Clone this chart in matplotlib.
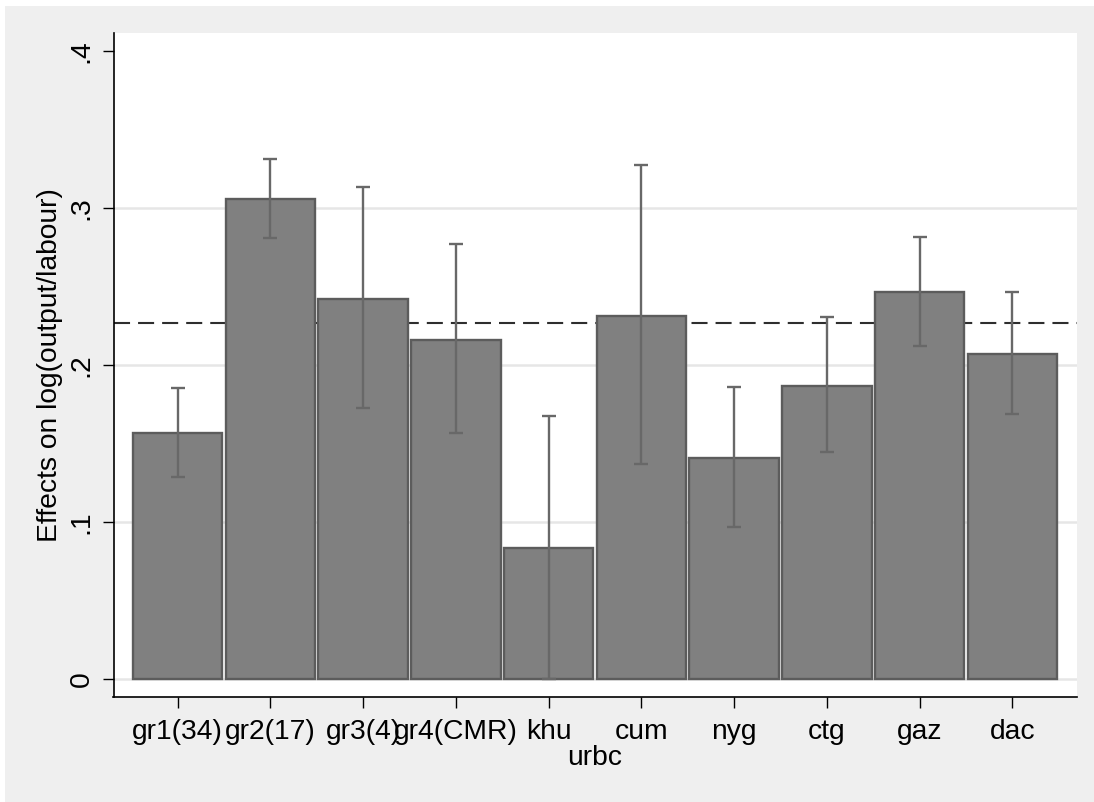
import matplotlib
matplotlib.use("Agg")
import matplotlib.pyplot as plt
from matplotlib.patches import Rectangle
import numpy as np

categories = ["gr1(34)", "gr2(17)", "gr3(4)", "gr4(CMR)", "khu", "cum", "nyg", "ctg", "gaz", "dac"]
effects = [0.1567, 0.3057, 0.2420, 0.2161, 0.0838, 0.2314, 0.1410, 0.1868, 0.2465, 0.2072]
ci_high = [0.1855, 0.3316, 0.3134, 0.2771, 0.1679, 0.3274, 0.1864, 0.2308, 0.2815, 0.2469]
ci_low = [0.1287, 0.2813, 0.1726, 0.1571, 0.0000, 0.1373, 0.0970, 0.1446, 0.2125, 0.1690]
mean_effect = 0.2271
y_ticks = [0, 0.1, 0.2, 0.3, 0.4]
y_ticklabels = ["0", ".1", ".2", ".3", ".4"]

plt.rcParams['font.family'] = ['Liberation Sans', 'DejaVu Sans']
FS = 20.3

fig = plt.figure(figsize=(10.94, 8.02), dpi=100, facecolor="white")
fig.patches.append(Rectangle((5 / 1094, 0), 1, 796 / 802, transform=fig.transFigure,
                             facecolor="#EFEFEF", edgecolor="none", zorder=-10))
ax = fig.add_axes([113.5 / 1094, 1 - 696.7 / 802, (1076.5 - 113.5) / 1094, (696.7 - 33.3) / 802])
ax.set_facecolor("white")

x = np.arange(len(categories))
for yv in [0, 0.1, 0.2, 0.3]:
    ax.axhline(yv, color="#E6E6E6", lw=1.8, zorder=0)
ax.axhline(mean_effect, color="#2E2E2E", lw=1.5, linestyle=(0, (7.7, 3.85)), zorder=1)

ax.bar(x, effects, width=0.965, color="#808080", edgecolor="#5C5C5C", linewidth=1.7, zorder=2)
eh = np.array(ci_high) - np.array(effects)
el = np.array(effects) - np.array(ci_low)
ax.errorbar(x, effects, yerr=[el, eh], fmt="none", ecolor="#686868", elinewidth=1.7,
            capsize=5, capthick=1.7, zorder=3)

ax.set_xlim(-0.69, 9.69)
ax.set_ylim(-0.0111, 0.4115)
ax.set_xticks(x)
ax.set_xticklabels(categories, fontsize=FS)
ax.set_yticks(y_ticks)
ax.set_yticklabels(y_ticklabels, fontsize=FS, rotation=90, va="center")
ax.tick_params(axis="both", length=7.7, width=1.0, color="black")
ax.tick_params(axis="x", pad=8)
ax.tick_params(axis="y", pad=6)
for s in ["top", "right"]:
    ax.spines[s].set_visible(False)
for s in ["left", "bottom"]:
    ax.spines[s].set_linewidth(1.2)
    ax.spines[s].set_color("black")

ax.set_xlabel("urbc", fontsize=FS, labelpad=0)
ax.set_ylabel("Effects on log(output/labour)", fontsize=FS, labelpad=4)

fig.savefig("out.png", dpi=100, facecolor=fig.get_facecolor())
